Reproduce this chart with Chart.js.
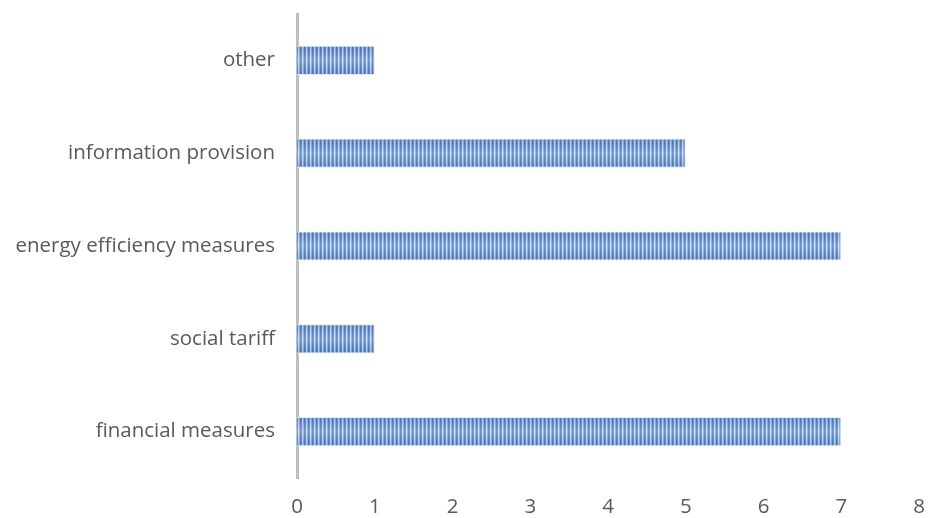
<!DOCTYPE html>
<html>
<head>
<meta charset="utf-8">
<script src="https://cdn.jsdelivr.net/npm/chart.js@4/dist/chart.umd.min.js"></script>
<style>
  html, body { margin: 0; padding: 0; background: #fff; }
  #wrap { width: 929px; height: 518px; }
</style>
</head>
<body>
<div id="wrap"><canvas id="c" width="929" height="518"></canvas></div>
<script>
// Measure types and how many times each was reported
const categories = ['other', 'information provision', 'energy efficiency measures', 'social tariff', 'financial measures'];
const counts = [1, 5, 7, 1, 7];
const xTicks = [0, 1, 2, 3, 4, 5, 6, 7, 8];

const BAR_PCT = 0.315;

// Striped fill with a soft vertical sheen, aligned to each bar
function stripeFill(ctx) {
  const chart = ctx.chart;
  const yScale = chart.scales && chart.scales.y;
  if (!yScale || ctx.dataIndex === undefined) return '#6e96cc';
  const band = (yScale.bottom - yScale.top) / categories.length;
  const cy = yScale.getPixelForValue(ctx.dataIndex);
  if (!isFinite(band) || !isFinite(cy) || band <= 0) return '#6e96cc';
  const h = Math.max(2, Math.round(band * BAR_PCT));
  const top = cy - h / 2;

  const cv = document.createElement('canvas');
  cv.width = 4; cv.height = h;
  const g = cv.getContext('2d');
  const cols = ['#4676b8', '#5e8bc8', '#c4d6ee', '#8cadda'];
  for (let i = 0; i < 4; i++) {
    g.fillStyle = cols[i];
    g.fillRect(i, 0, 1, h);
  }
  const grad = g.createLinearGradient(0, 0, 0, h);
  grad.addColorStop(0, 'rgba(60,100,170,0.18)');
  grad.addColorStop(0.5, 'rgba(255,255,255,0.22)');
  grad.addColorStop(1, 'rgba(60,100,170,0.18)');
  g.fillStyle = grad;
  g.fillRect(0, 0, 4, h);

  const p = chart.ctx.createPattern(cv, 'repeat');
  p.setTransform(new DOMMatrix().translate(0, top));
  return p;
}

const labelFont = { family: '"Open Sans", Lato, sans-serif', size: 20.5 };

new Chart(document.getElementById('c'), {
  type: 'bar',
  data: {
    labels: categories,
    datasets: [{
      data: counts,
      backgroundColor: stripeFill,
      borderColor: 'rgba(225,235,248,0.95)',
      borderWidth: 1,
      barPercentage: BAR_PCT,
      categoryPercentage: 1
    }]
  },
  options: {
    indexAxis: 'y',
    responsive: false,
    animation: false,
    layout: { padding: { top: 14, right: 10, left: 0, bottom: 0 } },
    plugins: { legend: { display: false }, tooltip: { enabled: false } },
    scales: {
      x: {
        min: 0, max: 8,
        afterBuildTicks: s => { s.ticks = xTicks.map(v => ({ value: v })); },
        grid: { display: false },
        border: { display: false },
        ticks: { color: '#595959', font: labelFont, padding: 9 },
        afterFit: s => { s.height = 40; s.paddingLeft = 0; s.paddingRight = 0; }
      },
      y: {
        grid: { display: false },
        border: { display: true, color: '#bfbfbf', width: 3 },
        ticks: { color: '#595959', font: labelFont, padding: 14 },
        afterFit: s => { s.width = 297; s.paddingTop = 0; s.paddingBottom = 0; }
      }
    }
  }
});
</script>
</body>
</html>
